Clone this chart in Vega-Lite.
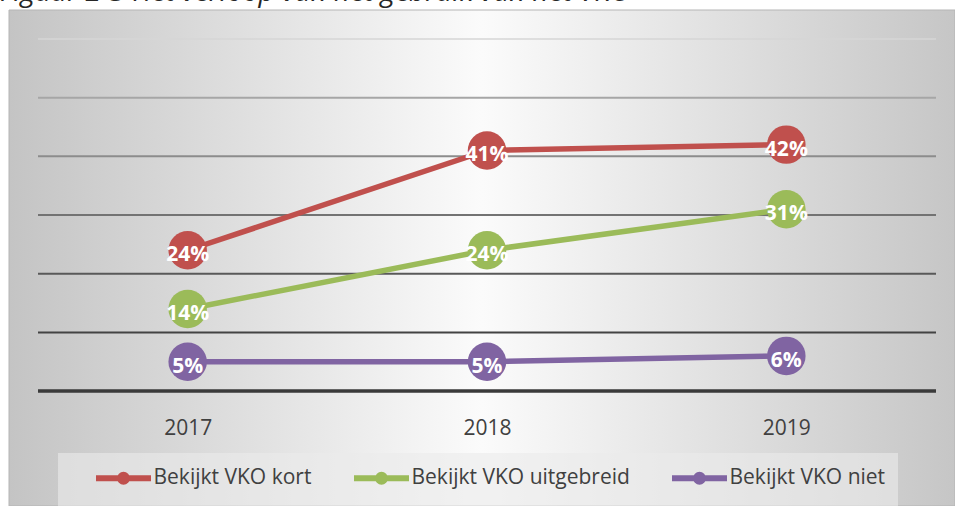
{
  "$schema": "https://vega.github.io/schema/vega-lite/v6.json",
  "width": 946,
  "height": 496,
  "autosize": {"type": "none"},
  "padding": {"left": 9, "top": 10, "right": 0, "bottom": 0},
  "background": "white",
  "title": {
    "text": "Figuur 2-3 Het verloop van het gebruik van het VKO",
    "anchor": "start",
    "frame": "group",
    "font": "Open Sans",
    "fontStyle": "italic",
    "fontWeight": "normal",
    "fontSize": 28,
    "color": "#262626",
    "baseline": "alphabetic",
    "offset": -19,
    "dx": -9,
    "zindex": 2
  },
  "config": {
    "view": {"stroke": null}
  },
  "datasets": {
    "series": [
      {"year": 2017, "reeks": "Bekijkt VKO kort", "v": 0.24},
      {"year": 2018, "reeks": "Bekijkt VKO kort", "v": 0.41},
      {"year": 2019, "reeks": "Bekijkt VKO kort", "v": 0.42},
      {"year": 2017, "reeks": "Bekijkt VKO uitgebreid", "v": 0.14},
      {"year": 2018, "reeks": "Bekijkt VKO uitgebreid", "v": 0.24},
      {"year": 2019, "reeks": "Bekijkt VKO uitgebreid", "v": 0.31},
      {"year": 2017, "reeks": "Bekijkt VKO niet", "v": 0.05},
      {"year": 2018, "reeks": "Bekijkt VKO niet", "v": 0.05},
      {"year": 2019, "reeks": "Bekijkt VKO niet", "v": 0.06}
    ],
    "grid": [
      {"g": 0}, {"g": 0.1}, {"g": 0.2}, {"g": 0.3}, {"g": 0.4}, {"g": 0.5}, {"g": 0.6}
    ]
  },
  "layer": [
    {
      "data": {"values": [{}]},
      "mark": {
        "type": "rect",
        "fill": {
          "gradient": "linear",
          "x1": 0, "y1": 0, "x2": 1, "y2": 0,
          "stops": [
            {"offset": 0, "color": "#c4c4c4"},
            {"offset": 0.5, "color": "#fbfbfb"},
            {"offset": 1, "color": "#c6c6c6"}
          ]
        },
        "stroke": "#b5b5b5",
        "strokeWidth": 1
      },
      "encoding": {}
    },
    {
      "data": {"name": "grid"},
      "mark": {"type": "rule"},
      "encoding": {
        "x": {"datum": 2016.5, "type": "quantitative"},
        "x2": {"datum": 2019.5},
        "y": {"field": "g", "type": "quantitative", "axis": null},
        "color": {
          "condition": [
            {"test": "datum.g > 0.55", "value": "#d6d6d6"},
            {"test": "datum.g > 0.45", "value": "#a6a6a6"},
            {"test": "datum.g > 0.35", "value": "#8c8c8c"},
            {"test": "datum.g > 0.25", "value": "#737373"},
            {"test": "datum.g > 0.15", "value": "#595959"},
            {"test": "datum.g > 0.05", "value": "#434343"}
          ],
          "value": "#3a3a3a"
        },
        "strokeWidth": {
          "condition": [
            {"test": "datum.g < 0.05", "value": 3.5},
            {"test": "datum.g > 0.55", "value": 1.5}
          ],
          "value": 2
        }
      }
    },
    {
      "data": {"name": "series"},
      "encoding": {
        "x": {
          "field": "year",
          "type": "quantitative",
          "scale": {"domain": [2016.5, 2019.5], "range": [29, 927], "nice": false, "zero": false},
          "axis": {
            "values": [2017, 2018, 2019],
            "format": "d",
            "title": null,
            "domain": false,
            "ticks": false,
            "grid": false,
            "labelFont": "Open Sans",
            "labelFontSize": 21,
            "labelColor": "#404040",
            "labelBaseline": "middle",
            "labelPadding": 37,
            "labelFlush": false,
            "labelOverlap": false,
            "offset": -115,
            "zindex": 1
          }
        },
        "y": {
          "field": "v",
          "type": "quantitative",
          "scale": {"domain": [0, 0.6], "range": [381.1, 29], "nice": false, "zero": true},
          "axis": null
        },
        "color": {
          "field": "reeks",
          "type": "nominal",
          "scale": {
            "domain": ["Bekijkt VKO kort", "Bekijkt VKO uitgebreid", "Bekijkt VKO niet"],
            "range": ["#c0504d", "#9bbb59", "#8064a2"]
          },
          "legend": {
            "title": null,
            "orient": "none",
            "direction": "horizontal",
            "legendX": 49,
            "legendY": 443,
            "fillColor": "rgba(235,235,235,0.6)",
            "padding": 12,
            "columnPadding": 16,
            "symbolOffset": 40.5,
            "symbolType": "M-2.75,0H2.75M-0.35,0A0.35,0.35 0 1,0 0.35,0A0.35,0.35 0 1,0 -0.35,0",
            "symbolSize": 400,
            "symbolStrokeWidth": 6,
            "labelFont": "Open Sans",
            "labelFontSize": 21,
            "labelColor": "#404040",
            "labelOffset": 17,
            "labelLimit": 400,
            "encode": {
              "symbols": {
                "update": {
                  "stroke": {"scale": "color", "field": "value"},
                  "fill": {"scale": "color", "field": "value"},
                  "strokeWidth": {"value": 6},
                  "opacity": {"value": 1}
                }
              }
            }
          }
        }
      },
      "layer": [
        {"mark": {"type": "line", "strokeWidth": 5.5}},
        {"mark": {"type": "point", "filled": true, "size": 1480, "opacity": 1}},
        {
          "mark": {"type": "text", "font": "Open Sans", "fontWeight": "bold", "fontSize": 21, "baseline": "middle", "dy": 5},
          "encoding": {
            "text": {"field": "v", "type": "quantitative", "format": ".0%"},
            "color": {"value": "white"}
          }
        }
      ]
    }
  ]
}
